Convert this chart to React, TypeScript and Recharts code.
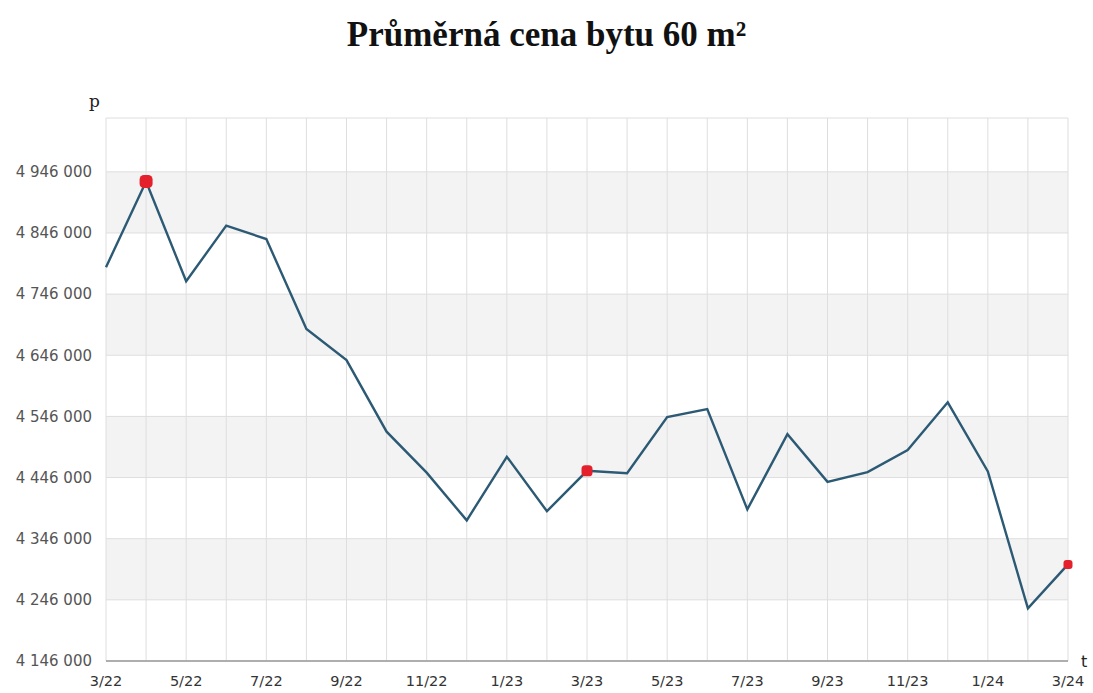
import React from 'react';
import { LineChart, Line, XAxis, YAxis, CartesianGrid } from 'recharts';

const months = ["3/22","4/22","5/22","6/22","7/22","8/22","9/22","10/22","11/22","12/22","1/23","2/23","3/23","4/23","5/23","6/23","7/23","8/23","9/23","10/23","11/23","12/23","1/24","2/24","3/24"];
const prices = [4790000, 4930000, 4767000, 4858000, 4836000, 4689000, 4638000, 4521000, 4454000, 4376000, 4480000, 4391000, 4457000, 4453000, 4545000, 4558000, 4394000, 4517000, 4439000, 4455000, 4491000, 4569000, 4456000, 4232000, 4304000];
const highlighted = [1, 12, 24];
const yTicks = [4146000, 4246000, 4346000, 4446000, 4546000, 4646000, 4746000, 4846000, 4946000];
const yDomain = [4146000, 5034000];

const data = months.map((m, i) => ({ month: m, price: prices[i] }));

const fmt = (v: number) => String(v).replace(/\B(?=(\d{3})+(?!\d))/g, ' ');

const markerSize: Record<number, number> = { 1: 13, 12: 11, 24: 9 };

const Dot = (props: any) => {
  const { cx, cy, index } = props;
  if (!highlighted.includes(index)) return <g key={`d${index}`} />;
  const s = markerSize[index] || 10;
  return <rect key={`d${index}`} x={cx - s / 2} y={cy - s / 2} width={s} height={s} rx={s / 3} fill="#e3202b" />;
};

export default function App() {
  return (
    <div style={{ position: 'absolute', left: 0, top: 0, width: 1093, height: 693, background: '#fff' }}>
      <div style={{ position: 'absolute', left: 0, top: 15, width: 1093, textAlign: 'center', fontFamily: '"Liberation Serif", serif', fontWeight: 'bold', fontSize: 35, color: '#111' }}>
        Průměrná cena bytu 60 m²
      </div>
      <div style={{ position: 'absolute', left: 89, top: 91, fontFamily: '"DejaVu Serif", serif', fontSize: 17, color: '#222' }}>p</div>
      <div style={{ position: 'absolute', left: 1081, top: 652, fontFamily: '"DejaVu Sans", sans-serif', fontSize: 16, color: '#222' }}>t</div>
      <div style={{ position: 'absolute', left: 0, top: 0 }}>
        <LineChart width={1093} height={693} data={data} margin={{ top: 118, right: 25, bottom: 4, left: 10 }}>
          <CartesianGrid stroke="#dedede" strokeWidth={1} horizontalFill={['transparent', '#f3f3f3']} />
          <XAxis
            dataKey="month"
            interval={0}
            tickLine={false}
            tickSize={0}
            tickMargin={15}
            height={28}
            axisLine={{ stroke: '#999', strokeWidth: 1.5 }}
            tickFormatter={(v: string, i: number) => (i % 2 === 0 ? v : '')}
            tick={{ fill: '#333', fontSize: 14.5, fontFamily: '"DejaVu Sans", sans-serif' }}
          />
          <YAxis
            type="number"
            domain={yDomain}
            ticks={yTicks}
            width={96}
            axisLine={false}
            tickLine={false}
            tickSize={0}
            tickMargin={14}
            tickFormatter={fmt}
            tick={{ fill: '#555', fontSize: 15, fontFamily: '"DejaVu Sans", sans-serif' }}
          />
          <Line
            type="linear"
            dataKey="price"
            stroke="#2c5a74"
            strokeWidth={2.4}
            dot={Dot}
            activeDot={false}
            isAnimationActive={false}
          />
        </LineChart>
      </div>
    </div>
  );
}
